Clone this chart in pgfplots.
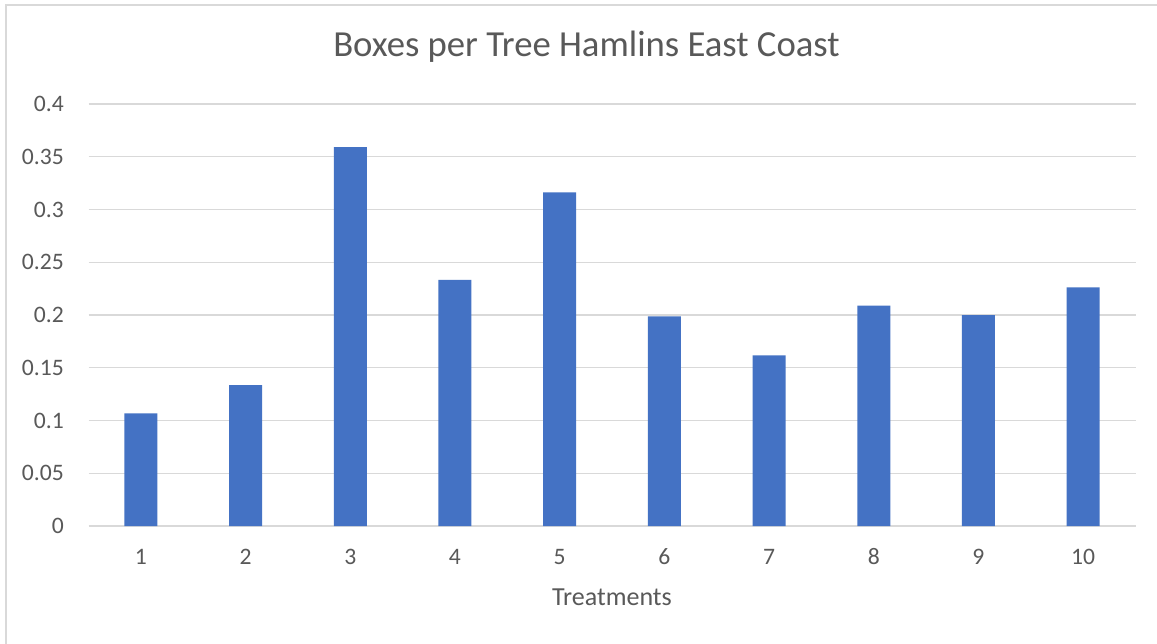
\documentclass[border=0pt]{standalone}
\usepackage{pgfplots}
\pgfplotsset{compat=1.18}
\usepackage{fontspec}
\setmainfont{Carlito}
\definecolor{barblue}{HTML}{4472C4}
\definecolor{gridgray}{HTML}{D9D9D9}
\definecolor{txtgray}{HTML}{595959}
\begin{document}
\begin{tikzpicture}[x=1pt,y=1pt]
\useasboundingbox (0,0) rectangle (1157,-644);
\fill[white] (0,0) rectangle (1157,-644);
\draw[gridgray, line width=2pt] (5.5,-644) -- (5.5,-5.5) -- (1157,-5.5);
\begin{axis}[
  at={(88.5pt,-526pt)}, anchor=south west,
  scale only axis, width=1047pt, height=422pt,
  xmin=0.5, xmax=10.5, ymin=0, ymax=0.4,
  xtick={1,...,10},
  ytick={0,0.05,...,0.4},
  ymajorgrids,
  grid style={gridgray, line width=1.3pt},
  axis line style={draw=none},
  major tick length=0pt,
  /pgf/number format/assume math mode=true,
  /pgf/number format/fixed,
  /pgf/number format/precision=2,
  tick label style={font=\fontsize{23.6}{28}\selectfont, text=txtgray},
  xticklabel style={anchor=center, yshift=-31pt},
  yticklabel style={anchor=east, inner sep=0pt, xshift=-24.5pt},
  xlabel={Treatments},
  xlabel style={at={(rel axis cs:0.5,0)}, anchor=center, yshift=-71pt, font=\fontsize{26}{30}\selectfont, text=txtgray},
]
\addplot[ybar, bar width=33pt, fill=barblue, draw=none] coordinates {
(1,0.1068) (2,0.1336) (3,0.3592) (4,0.2332) (5,0.3163)
(6,0.1987) (7,0.1618) (8,0.2088) (9,0.2000) (10,0.2262)
};
\end{axis}
\node[text=txtgray, font=\fontsize{36.7}{44}\selectfont, anchor=center] at (586.5,-47) {Boxes per Tree Hamlins East Coast};
\end{tikzpicture}
\end{document}
